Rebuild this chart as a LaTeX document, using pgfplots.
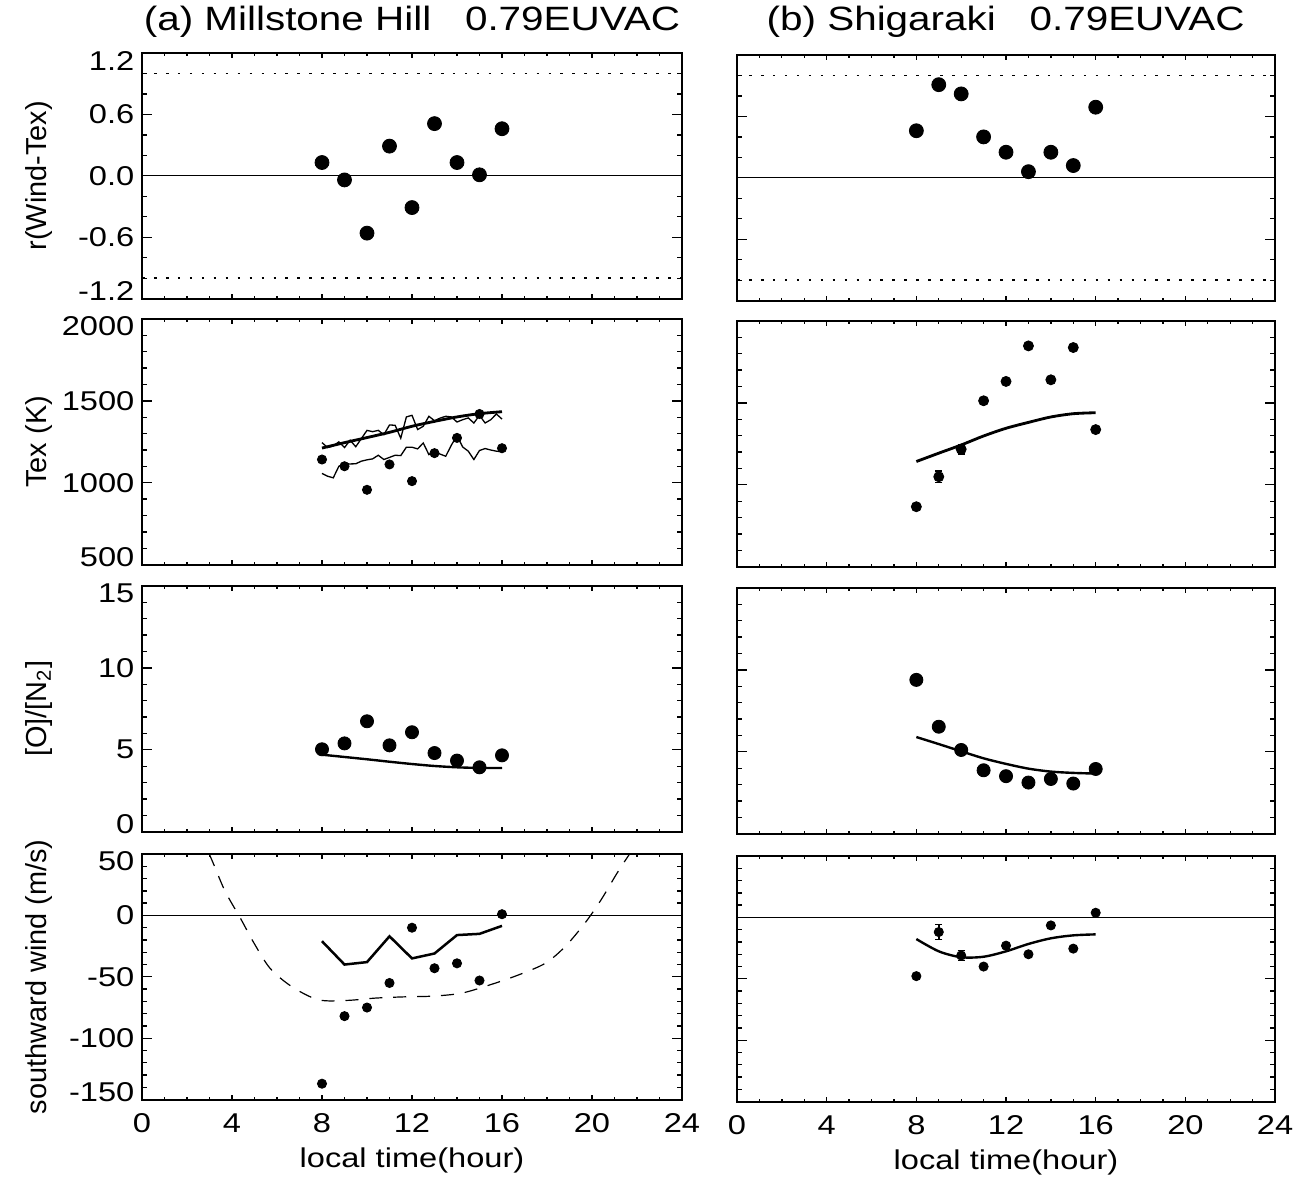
\documentclass[border=0pt]{standalone}
\usepackage{fontspec}
\setmainfont{Liberation Sans}[FakeStretch=1.2]
\newfontfamily\tickfont{Liberation Sans}[FakeStretch=1.2]
\newfontfamily\rotfont{Liberation Sans}
\newcommand\tl{\tickfont\fontsize{12.5}{13}\selectfont}
\usepackage{pgfplots}
\pgfplotsset{compat=1.18}

\pgfplotsset{
  panel/.style={
    scale only axis, width=248.4pt, height=113pt,
    anchor=north west,
    xmin=0, xmax=24, xtick={0,4,...,24}, minor x tick num=3,
    xticklabels={}, tick align=inside,
    axis line style={line width=0.9pt},
    every tick/.style={black, line width=0.6pt},
    major tick length=4.6pt, minor tick length=2.3pt,
    every x tick/.append style={/pgfplots/major tick length=2.2pt},
    every minor x tick/.append style={/pgfplots/minor tick length=1.3pt},
    every tick label/.append style={font=\tl},
    xticklabel style={yshift=-3pt},
    every axis y label/.style={at={(axis description cs:0,0.5)}, xshift=-47.5pt,
      rotate=90, anchor=center, font=\rotfont\fontsize{13.3}{14}\selectfont},
    every axis x label/.style={at={(axis description cs:0.5,0)}, yshift=-28pt,
      anchor=center, font=\tickfont\fontsize{12.5}{13}\selectfont},
  },
  left/.style={panel, width=248.4pt},
  right/.style={panel, width=247.5pt, yticklabels={}},
  lefty/.style={yticklabel style={/utils/exec={%
      \ifnum\ticknum=0\relax\pgfkeysalso{yshift=3.5pt}\fi
      \ifnum\ticknum=#1\relax\pgfkeysalso{yshift=-3.5pt}\fi}}},
  bottomx/.style={xticklabels={\tl 0,\tl 4,\tl 8,\tl 12,\tl 16,\tl 20,\tl 24},
    xlabel={local time(hour)}},
  dots/.style={only marks, mark=*, black, mark options={fill=black, draw=black}},
  zero/.style={black, line width=0.55pt},
  dotl/.style={black, line width=0.7pt, dash pattern=on 1.2pt off 4.3pt},
  model/.style={black, line width=1.3pt},
  thinz/.style={black, line width=0.6pt},
  ebar/.style={error bars/.cd, y dir=both, y explicit,
    error bar style={line width=0.7pt},
    error mark options={rotate=90, mark size=1.6pt, line width=0.7pt}},
  ebarplain/.style={error bars/.cd, y dir=both, y explicit,
    error bar style={line width=1.2pt}, error mark=none},
}

\begin{document}
\begin{tikzpicture}
\path[use as bounding box] (0,0) rectangle (604.44pt,-546.02pt);
\node[font=\fontsize{15.5}{16}\selectfont] at (189.5pt,-10pt) {(a) Millstone Hill~~~0.79EUVAC};
\node[font=\fontsize{15.5}{16}\selectfont] at (462.6pt,-10pt) {(b) Shigaraki~~~0.79EUVAC};

% ---------- row 1: r(Wind-Tex)
\begin{axis}[left, at={(65.32pt,-24.38pt)},
  ymin=-1.2, ymax=1.2, ytick={-1.2,-0.6,0,0.6,1.2},
  yticklabels={\tl-1.2,\tl-0.6,\tl 0.0,\tl 0.6,\tl 1.2}, minor y tick num=2, lefty=4,
  ylabel={r(Wind-Tex)}]
\addplot[zero] coordinates {(0,0) (24,0)};
\addplot[dotl] coordinates {(0,1) (24,1)};
\addplot[dotl] coordinates {(0,-1) (24,-1)};
\addplot[dots, mark size=3.2pt] coordinates {
  (8,0.13) (9,-0.04) (10,-0.56) (11,0.29) (12,-0.31)
  (13,0.51) (14,0.13) (15,0.01) (16,0.46)};
\end{axis}

\begin{axis}[right, at={(339.02pt,-25.3pt)},
  ymin=-1.2, ymax=1.2, ytick={-1.2,-0.6,0,0.6,1.2}, minor y tick num=2]
\addplot[zero] coordinates {(0,0) (24,0)};
\addplot[dotl] coordinates {(0,1) (24,1)};
\addplot[dotl] coordinates {(0,-1) (24,-1)};
\addplot[dots, mark size=3.2pt] coordinates {
  (8,0.46) (9,0.91) (10,0.82) (11,0.40) (12,0.25)
  (13,0.06) (14,0.25) (15,0.12) (16,0.69)};
\end{axis}

% ---------- row 2: Tex (K)
\begin{axis}[left, at={(65.32pt,-146.74pt)},
  ymin=500, ymax=2000, ytick={500,1000,1500,2000},
  yticklabels={\tl 500,\tl 1000,\tl 1500,\tl 2000}, minor y tick num=4, lefty=3,
  ylabel={Tex (K)}]
\addplot[thinz] coordinates {
  (8.00,1245) (8.25,1215) (8.50,1225) (8.75,1250) (9.00,1215) (9.25,1260)
  (9.50,1220) (9.75,1270) (10.0,1320) (10.25,1312) (10.5,1320) (10.75,1294)
  (11.0,1353) (11.25,1351) (11.5,1272) (11.75,1402) (12.0,1412) (12.25,1325)
  (12.5,1345) (12.75,1406) (13.0,1379) (13.25,1395) (13.5,1406) (13.75,1402)
  (14.0,1371) (14.25,1385) (14.5,1396) (14.75,1365) (15.0,1412) (15.25,1365)
  (15.5,1385) (15.75,1420) (16.0,1389)};
\addplot[thinz] coordinates {
  (8.00,1057) (8.25,1040) (8.50,1030) (8.75,1101) (9.00,1116) (9.25,1115)
  (9.50,1116) (9.75,1132) (10.0,1140) (10.25,1146) (10.5,1168) (10.75,1142)
  (11.0,1155) (11.25,1168) (11.5,1166) (11.75,1217) (12.0,1217) (12.25,1207)
  (12.5,1243) (12.75,1172) (13.0,1193) (13.25,1175) (13.5,1162) (13.75,1230)
  (14.0,1288) (14.25,1219) (14.5,1193) (14.75,1142) (15.0,1197) (15.25,1209)
  (15.5,1200) (15.75,1193) (16.0,1189)};
\addplot[model, smooth] coordinates {
  (8,1212) (9,1245) (10,1276) (11,1308) (12,1345) (13,1375) (14,1402) (15,1422) (16,1434)};
\addplot[dots, mark size=2.1pt] coordinates {
  (8,1142) (9,1101) (10,957) (11,1112) (12,1010)
  (13,1181) (14,1274) (15,1420) (16,1211)};
\end{axis}

\begin{axis}[right, at={(339.02pt,-147.66pt)},
  ymin=500, ymax=2000, ytick={500,1000,1500,2000}, minor y tick num=4]
\addplot[model, smooth] coordinates {
  (8,1142) (9,1193) (10,1243) (11,1298) (12,1345) (13,1381) (14,1414) (15,1434) (16,1440)};
\addplot[dots, mark size=2.3pt] coordinates {
  (8,866) (11,1513) (12,1631) (13,1848) (14,1641) (15,1838) (16,1337)};
\addplot[dots, mark size=2.3pt, ebar] coordinates {
  (9,1049) +- (0,35) (10,1217) +- (0,30)};
\end{axis}

% ---------- row 3: [O]/[N2]
\begin{axis}[left, at={(65.32pt,-269.56pt)},
  ymin=0, ymax=15, ytick={0,5,10,15},
  yticklabels={\tl 0,\tl 5,\tl 10,\tl 15}, minor y tick num=4, lefty=3,
  ylabel={[O]/[N\textsubscript{2}]}]
\addplot[model, line width=1.1pt, smooth] coordinates {
  (8,4.70) (9,4.56) (10,4.42) (11,4.27) (12,4.13) (13,4.01) (14,3.93) (15,3.89) (16,3.89)};
\addplot[dots, mark size=3pt] coordinates {
  (8,5.03) (9,5.39) (10,6.74) (11,5.27) (12,6.07)
  (13,4.80) (14,4.34) (15,3.93) (16,4.66)};
\end{axis}

\begin{axis}[right, at={(339.02pt,-270.48pt)},
  ymin=0, ymax=15, ytick={0,5,10,15}, minor y tick num=4]
\addplot[model, line width=1.1pt, smooth] coordinates {
  (8,5.90) (9,5.47) (10,5.03) (11,4.60) (12,4.26) (13,3.97) (14,3.79) (15,3.71) (16,3.67)};
\addplot[dots, mark size=3pt] coordinates {
  (8,9.39) (9,6.53) (10,5.11) (11,3.87) (12,3.51)
  (13,3.12) (14,3.34) (15,3.06) (16,3.95)};
\end{axis}

% ---------- row 4: southward wind
\begin{axis}[left, bottomx, at={(65.32pt,-392.84pt)},
  ymin=-150, ymax=50, ytick={-150,-100,-50,0,50},
  yticklabels={\tl-150,\tl-100,\tl-50,\tl 0,\tl 50}, minor y tick num=4, lefty=4,
  ylabel={southward wind (m/s)}]
\addplot[zero] coordinates {(0,0) (24,0)};
\addplot[black, line width=0.55pt, dash pattern=on 6pt off 5pt, smooth] coordinates {
  (2.99,50) (3.23,39.7) (3.70,19.4) (4.39,-2.8) (4.98,-22.6) (5.69,-43)
  (6.65,-57.9) (7.84,-68.7) (9.11,-69.2) (10.38,-67.3) (11.65,-66.3)
  (12.93,-65.7) (14.2,-63.3) (15.47,-56.5) (16.74,-48.4) (17.93,-38.9)
  (18.81,-25.3) (19.68,-6.4) (20.4,12.6) (21.11,34.3) (21.67,50)};
\addplot[model, line width=1.15pt] coordinates {
  (8,-21) (9,-40) (10,-38) (11,-17) (12,-35) (13,-31) (14,-16) (15,-15) (16,-8.5)};
\addplot[dots, mark size=2.1pt] coordinates {
  (8,-137) (9,-82) (10,-75) (12,-10) (14,-39) (15,-53) (16,1)};
\addplot[dots, mark size=2.1pt, ebarplain] coordinates {
  (11,-55) +- (0,3.5) (13,-43) +- (0,3)};
\end{axis}

\begin{axis}[right, bottomx, at={(339.02pt,-393.76pt)},
  ymin=-150, ymax=50, ytick={-150,-100,-50,0,50}, minor y tick num=4]
\addplot[zero] coordinates {(0,0) (24,0)};
\addplot[model, line width=1.1pt, smooth] coordinates {
  (8,-17.6) (9,-27.6) (10,-32.4) (11,-32) (12,-27.6) (13,-21.6) (14,-17) (15,-14.6) (16,-13.8)};
\addplot[dots, mark size=2.1pt] coordinates {
  (8,-47.8) (11,-40) (12,-23) (13,-30) (14,-6.5) (15,-25.4) (16,3.8)};
\addplot[dots, mark size=2.1pt, ebar] coordinates {
  (9,-11.9) +- (0,6) (10,-31) +- (0,4)};
\end{axis}
\end{tikzpicture}
\end{document}
